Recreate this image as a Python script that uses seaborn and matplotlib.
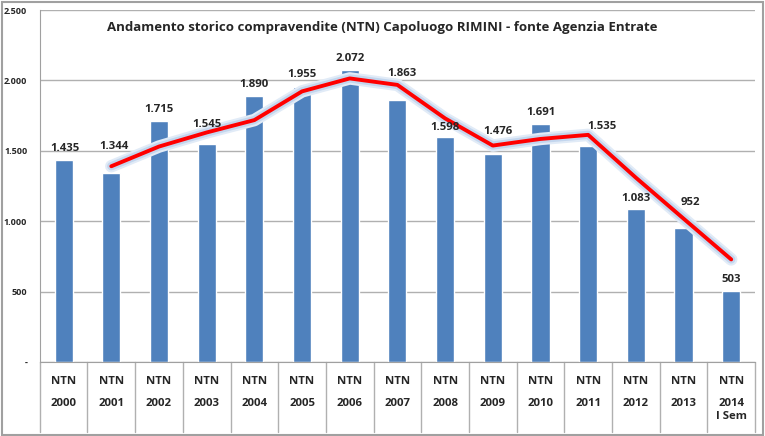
import matplotlib
matplotlib.use("Agg")
import matplotlib.pyplot as plt
import seaborn as sns
import pandas as pd

anni = ["2000", "2001", "2002", "2003", "2004", "2005", "2006", "2007",
        "2008", "2009", "2010", "2011", "2012", "2013", "2014\nI Sem"]
ntn = [1435, 1344, 1715, 1545, 1890, 1955, 2072, 1863,
       1598, 1476, 1691, 1535, 1083, 952, 503]
# media mobile a 2 periodi (linea rossa)
media_mobile = [None, 1390, 1530, 1630, 1718, 1922, 2014, 1968,
                1730, 1537, 1584, 1613, 1309, 1018, 728]

# spostamento etichette (pixel) per non sovrapporsi alla linea
off_x = [1, 3, 0, 0, 0, 0, 0, 5, 0, 5, 0, 14, 0, 7, 0]
off_y = [11, 26, 11, 20, 11, 12, 12, 26, 9, 23, 11, 19, 11, 25, 12]

df = pd.DataFrame({"anno": anni, "ntn": ntn, "media": media_mobile})
df["pos"] = range(len(df))

sns.set_style("white")
plt.rcParams["font.family"] = ["Open Sans", "DejaVu Sans"]

fig = plt.figure(figsize=(7.65, 4.36), dpi=100)
ax = fig.add_axes([0.052, 0.170, 0.935, 0.807])

sns.barplot(x="pos", y="ntn", data=df, color="#4f81bd", width=0.38,
            saturation=1, ax=ax, native_scale=True, zorder=2)

sns.lineplot(x="pos", y="media", data=df, color="#e1ebf7", linewidth=9,
             ax=ax, zorder=3, solid_capstyle="round")
sns.lineplot(x="pos", y="media", data=df, color="#c3d6ee", linewidth=6,
             ax=ax, zorder=3, solid_capstyle="round")
sns.lineplot(x="pos", y="media", data=df, color="#ff0000", linewidth=2.8,
             ax=ax, zorder=4, solid_capstyle="round")

ax.set_xlim(-0.5, len(df) - 0.5)
ax.set_ylim(0, 2500)
ax.set_yticks([0, 500, 1000, 1500, 2000, 2500])
ax.set_yticklabels(["-", "500", "1.000", "1.500", "2.000", "2.500"],
                   fontsize=6.5, fontweight="bold")
ax.tick_params(axis="y", length=0, pad=9)
ax.yaxis.grid(True, color="#b0b0b0", linewidth=1, zorder=0)
ax.set_axisbelow(True)
ax.set_xticks([])
ax.set_xlabel("")
ax.set_ylabel("")

for s in ["top", "right"]:
    ax.spines[s].set_visible(False)
ax.spines["left"].set_color("#a0a0a0")
ax.spines["bottom"].set_color("#a0a0a0")

for i, v in enumerate(df["ntn"]):
    ax.annotate(f"{v:,}".replace(",", "."), (i, v),
                xytext=(off_x[i] * 0.72, off_y[i] * 0.72), textcoords="offset points",
                ha="center", va="center", fontsize=8.2, fontweight="bold", zorder=6)

# tabella categorie sotto l'asse
trans = ax.get_xaxis_transform()
for i, a in enumerate(df["anno"]):
    ax.text(i, -0.055, "NTN", transform=trans, ha="center", va="center",
            fontsize=8.2, fontweight="bold")
    ax.text(i, -0.104, a, transform=trans, ha="center", va="top",
            fontsize=8.2, fontweight="bold", linespacing=1.15)
for i in range(len(df) + 1):
    ax.plot([i - 0.5, i - 0.5], [0, -0.2], transform=trans, color="#b0b0b0",
            linewidth=1, clip_on=False)

fig.text(0.5, 0.938, "Andamento storico compravendite (NTN) Capoluogo RIMINI - fonte Agenzia Entrate",
         ha="center", va="center", fontsize=9.5, fontweight="bold")

fig.patches.append(plt.Rectangle((0.002, 0.003), 0.995, 0.993, transform=fig.transFigure,
                                 fill=False, edgecolor="#a0a0a0", linewidth=1.5))

fig.savefig("out.png", dpi=100)
